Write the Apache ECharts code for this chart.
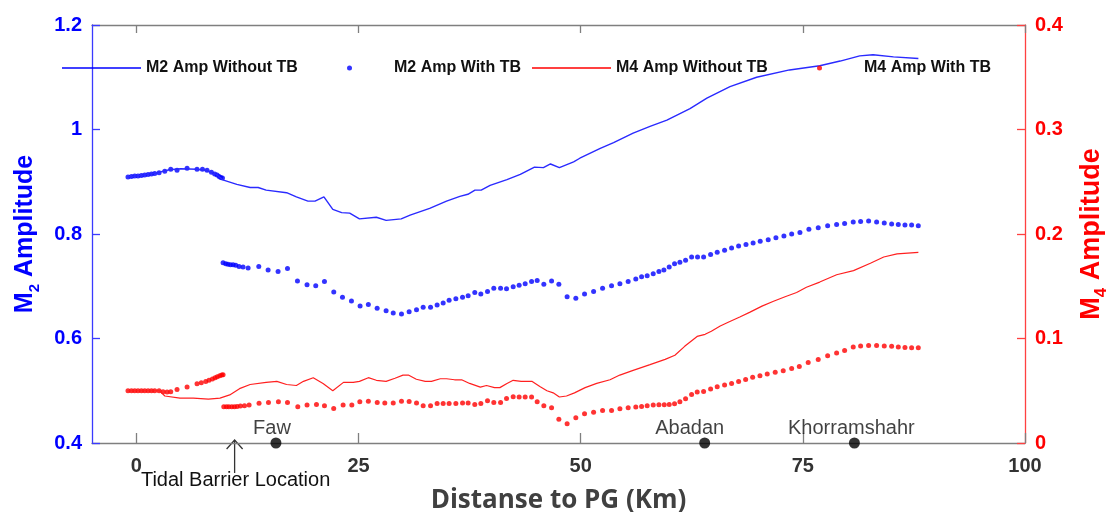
<!DOCTYPE html>
<html>
<head>
<meta charset="utf-8">
<script src="https://cdn.jsdelivr.net/npm/echarts@6/dist/echarts.min.js"></script>
<style>
html, body { margin: 0; padding: 0; background: #fff; }
#main { width: 1111px; height: 512px; }
</style>
</head>
<body>
<div id="main"></div>
<script>
// distance to PG (km), amplitude
const m2WithoutTB = [[-1,0.909],[0.5,0.912],[2,0.916],[3.7,0.923],[5,0.925],[6.8,0.924],[8,0.921],[9,0.914],[9.8,0.903],[11.3,0.895],[12.8,0.889],[13.7,0.889],[14.6,0.884],[16.9,0.879],[18,0.871],[19.3,0.863],[20.1,0.863],[21.1,0.871],[22.1,0.847],[23.1,0.841],[24,0.840],[25.1,0.829],[27,0.832],[28.1,0.826],[29.8,0.829],[30.8,0.836],[33,0.849],[34.9,0.863],[36.4,0.872],[37.3,0.876],[38.1,0.884],[38.8,0.884],[39.8,0.893],[41.7,0.904],[43.2,0.914],[44.8,0.928],[45.8,0.927],[46.6,0.934],[47.6,0.927],[49.2,0.938],[49.9,0.945],[52.2,0.964],[53.7,0.975],[55.9,0.993],[57.8,1.006],[59.7,1.018],[62.3,1.040],[64.2,1.060],[66.8,1.082],[69.8,1.100],[73.5,1.114],[76.9,1.122],[79.2,1.131],[81.4,1.141],[82.9,1.143],[85.2,1.139],[88,1.136]];

const m2WithTB = [[-0.95,0.909],[-0.56,0.910],[-0.19,0.911],[0.18,0.911],[0.56,0.912],[0.93,0.913],[1.31,0.914],[1.69,0.915],[2.06,0.916],[2.55,0.917],[3.19,0.920],[3.86,0.924],[4.57,0.922],[5.7,0.926],[6.82,0.924],[7.43,0.924],[7.95,0.922],[8.44,0.918],[8.81,0.915],[9.08,0.913],[9.31,0.910],[9.49,0.908],[9.68,0.907],
  [9.75,0.745],[10.05,0.743],[10.3,0.742],[10.58,0.741],[10.88,0.741],[11.18,0.740],[11.55,0.738],[12.0,0.737],[12.57,0.735],[13.77,0.738],[14.82,0.731],[15.94,0.728],[17.0,0.734],[18.12,0.710],[19.2,0.703],[20.18,0.701],[21.16,0.709],[22.21,0.689],[23.19,0.679],[24.2,0.672],[25.17,0.662],[26.1,0.665],[27.09,0.658],[28.1,0.653],[28.9,0.649],[29.83,0.647],[30.69,0.651],[31.52,0.655],[32.27,0.660],[33.1,0.660],[33.84,0.664],[34.52,0.668],[35.19,0.673],[35.95,0.676],[36.7,0.679],[37.33,0.682],[38.08,0.688],[38.76,0.685],[39.51,0.690],[40.22,0.696],[40.98,0.696],[41.65,0.695],[42.4,0.699],[43.07,0.702],[43.75,0.705],[44.47,0.709],[45.1,0.711],[45.85,0.704],[46.72,0.710],[47.54,0.704],[48.47,0.680],[49.45,0.677],[50.43,0.685],[51.45,0.690],[52.46,0.696],[53.47,0.701],[54.41,0.705],[55.34,0.709],[56.2,0.714],[56.85,0.718],[57.48,0.720],[58.16,0.724],[58.8,0.728],[59.36,0.731],[59.96,0.737],[60.56,0.743],[61.16,0.746],[61.8,0.750],[62.48,0.756],[63.15,0.756],[63.83,0.756],[64.62,0.761],[65.36,0.765],[66.19,0.769],[66.98,0.773],[67.77,0.777],[68.6,0.780],[69.4,0.783],[70.2,0.786],[71.1,0.789],[71.97,0.793],[72.87,0.796],[73.74,0.800],[74.67,0.803],[75.68,0.809],[76.73,0.812],[77.79,0.816],[78.8,0.818],[79.7,0.820],[80.67,0.823],[81.5,0.824],[82.4,0.825],[83.3,0.823],[84.16,0.821],[84.99,0.819],[85.74,0.818],[86.49,0.817],[87.24,0.817],[87.99,0.816]];

const m4WithoutTB = [[-1,0.050],[2.6,0.050],[3.2,0.045],[4.9,0.043],[6.4,0.043],[8.1,0.042],[9.4,0.043],[10.5,0.046],[11.6,0.052],[12.8,0.056],[14.6,0.058],[15.8,0.059],[16.9,0.056],[18,0.055],[18.8,0.059],[19.9,0.0625],[21,0.057],[22.1,0.050],[23.3,0.058],[24.4,0.058],[25.1,0.059],[26.1,0.0625],[27,0.060],[28.1,0.059],[29.1,0.062],[30,0.065],[30.6,0.065],[31.5,0.061],[32.5,0.059],[33.2,0.059],[34.2,0.0615],[34.9,0.0615],[35.8,0.0605],[36.6,0.0605],[37.5,0.057],[38.7,0.0535],[39.4,0.055],[40.3,0.053],[40.9,0.053],[41.7,0.057],[42.4,0.060],[43.3,0.059],[44.5,0.059],[45.4,0.054],[46.2,0.050],[46.9,0.048],[47.6,0.044],[48.4,0.045],[49.3,0.048],[50.5,0.053],[51.8,0.057],[53.3,0.0605],[54.4,0.065],[55.9,0.0695],[57.8,0.075],[59.5,0.080],[60.6,0.084],[61.7,0.0925],[63.1,0.102],[64,0.104],[64.7,0.107],[65.7,0.112],[66.6,0.1155],[67.9,0.1205],[69,0.125],[70.4,0.131],[71.7,0.1356],[73,0.140],[74.3,0.144],[75.4,0.149],[76.9,0.154],[78.8,0.161],[80.7,0.165],[82.6,0.172],[84.1,0.178],[85.6,0.181],[88,0.1825]];

const m4WithTB = [[-0.95,0.050],[-0.56,0.050],[-0.19,0.050],[0.18,0.050],[0.56,0.050],[0.93,0.050],[1.31,0.050],[1.69,0.050],[2.06,0.050],[2.55,0.050],[3.0,0.049],[3.45,0.0487],[3.86,0.049],[4.57,0.0513],[5.7,0.0535],[6.82,0.0567],[7.3,0.0577],[7.8,0.0589],[8.17,0.060],[8.55,0.0612],[8.85,0.0625],[9.1,0.0634],[9.38,0.0644],[9.6,0.065],[9.75,0.0653],
  [9.83,0.0347],[10.13,0.0347],[10.4,0.0347],[10.73,0.0347],[11.03,0.0347],[11.33,0.035],[11.7,0.0353],[12.16,0.0357],[12.68,0.0363],[13.8,0.0381],[14.86,0.0388],[15.98,0.0395],[17.0,0.0388],[18.16,0.0347],[19.2,0.0363],[20.26,0.0369],[21.16,0.0357],[22.2,0.0331],[23.26,0.0363],[24.24,0.0363],[25.14,0.0395],[26.1,0.040],[27.1,0.0388],[27.95,0.0382],[28.9,0.0382],[29.83,0.040],[30.69,0.0398],[31.52,0.0382],[32.27,0.0357],[33.1,0.0357],[33.84,0.0379],[34.52,0.0379],[35.19,0.0379],[35.95,0.0379],[36.7,0.0382],[37.33,0.0382],[38.08,0.0369],[38.76,0.0379],[39.51,0.0404],[40.22,0.0388],[40.98,0.0388],[41.65,0.0427],[42.4,0.0443],[43.07,0.0439],[43.75,0.0439],[44.47,0.0439],[45.1,0.0395],[45.85,0.0357],[46.72,0.0337],[47.54,0.0228],[48.47,0.0184],[49.45,0.0241],[50.43,0.028],[51.45,0.0295],[52.46,0.0312],[53.47,0.0312],[54.41,0.0328],[55.34,0.0337],[56.2,0.0344],[56.85,0.035],[57.48,0.0357],[58.16,0.0363],[58.8,0.0366],[59.4,0.0366],[59.96,0.0369],[60.56,0.0376],[61.16,0.0395],[61.8,0.0424],[62.48,0.0465],[63.11,0.0487],[63.83,0.0494],[64.62,0.0516],[65.36,0.0538],[66.19,0.0554],[66.98,0.057],[67.77,0.0589],[68.56,0.0608],[69.35,0.0628],[70.17,0.0644],[70.99,0.066],[71.89,0.0676],[72.79,0.0692],[73.74,0.0714],[74.6,0.0733],[75.6,0.0771],[76.73,0.080],[77.79,0.0836],[78.8,0.0861],[79.7,0.0886],[80.67,0.0918],[81.5,0.0928],[82.4,0.0934],[83.3,0.0934],[84.16,0.0928],[84.99,0.0925],[85.74,0.0918],[86.49,0.0915],[87.24,0.0912],[87.99,0.0912]];

const stationNames = ['Faw', 'Abadan', 'Khorramshahr'];
const stationKm = [15.7, 63.95, 80.8];
const barrierKm = 11.05;
const xTicks = [0, 25, 50, 75, 100];

const BLUE = '#0000ff';
const RED = '#ff0000';
const GREY = '#7f7f7f';
const ARIAL = '"Liberation Sans", Arial, sans-serif';

// a dot in the middle of a wide box, so the legend text sits where the line icons put it
const dotIcon = 'path://M0,0M79,0M79,6M0,6M37,3a2.5,2.5 0 1 0 5,0a2.5,2.5 0 1 0 -5,0Z';

function legendAt(left, name, icon, h) {
    return {
        left: left,
        top: 60,
        padding: 0,
        selectedMode: false,
        itemWidth: 79,
        itemHeight: h,
        itemStyle: { borderWidth: 0 },
        textStyle: { fontFamily: ARIAL, fontWeight: 'bold', fontSize: 16, color: '#111' },
        data: [{ name: name, icon: icon }]
    };
}

const labelShift = { Faw: -4, Abadan: -15, Khorramshahr: -3 };

const chart = echarts.init(document.getElementById('main'));
const option = {
    animation: false,
    backgroundColor: '#fff',
    grid: { left: 92, right: 86, top: 25, bottom: 69, outerBoundsMode: 'none' },
    legend: [
        legendAt(62, 'M2 Amp Without TB', 'rect', 1.5),
        legendAt(310, 'M2 Amp With TB', dotIcon, 6),
        legendAt(532, 'M4 Amp Without TB', 'rect', 1.5),
        legendAt(780, 'M4 Amp With TB', dotIcon, 6)
    ],
    xAxis: [
        {
            type: 'value',
            min: -5,
            max: 100,
            name: 'Distanse to PG (Km)',
            nameLocation: 'middle',
            nameGap: 45,
            nameTextStyle: { fontFamily: '"Open Sans", sans-serif', fontWeight: 'bold', fontSize: 26, color: '#404040' },
            axisLine: { onZero: false, lineStyle: { color: GREY, width: 1.3 } },
            axisTick: { inside: true, length: 10, customValues: xTicks, lineStyle: { color: GREY, width: 1.3 } },
            axisLabel: { customValues: xTicks, margin: 13, fontFamily: ARIAL, fontWeight: 'bold', fontSize: 20, color: '#333' },
            splitLine: { show: false }
        },
        {
            type: 'value',
            position: 'top',
            min: -5,
            max: 100,
            axisLine: { onZero: false, lineStyle: { color: GREY, width: 1.3 } },
            axisTick: { inside: true, length: 8, customValues: xTicks, lineStyle: { color: GREY, width: 1.3 } },
            axisLabel: { show: false },
            splitLine: { show: false }
        }
    ],
    yAxis: [
        {
            type: 'value',
            min: 0.4,
            max: 1.2,
            interval: 0.2,
            name: 'M{s|2} Amplitude',
            nameLocation: 'middle',
            nameRotate: 90,
            nameGap: 50,
            nameTextStyle: {
                fontFamily: ARIAL, fontWeight: 'bold', fontSize: 25, color: BLUE, lineHeight: 34,
                rich: { s: { fontFamily: ARIAL, fontWeight: 'bold', fontSize: 15, color: BLUE, verticalAlign: 'bottom' } }
            },
            axisLine: { show: true, onZero: false, lineStyle: { color: '#3a3aff', width: 1.3 } },
            axisTick: { inside: true, length: 8, lineStyle: { color: '#3a3aff', width: 1.3 } },
            axisLabel: { margin: 10, fontFamily: ARIAL, fontWeight: 'bold', fontSize: 20, color: BLUE },
            splitLine: { show: false }
        },
        {
            type: 'value',
            min: 0,
            max: 0.4,
            interval: 0.1,
            position: 'right',
            name: 'M{s|4} Amplitude',
            nameLocation: 'middle',
            nameRotate: 90,
            nameGap: 49,
            nameTextStyle: {
                fontFamily: ARIAL, fontWeight: 'bold', fontSize: 27, color: RED, lineHeight: 36,
                rich: { s: { fontFamily: ARIAL, fontWeight: 'bold', fontSize: 17, color: RED, verticalAlign: 'bottom' } }
            },
            axisLine: { show: true, onZero: false, lineStyle: { color: '#ff4040', width: 1.3 } },
            axisTick: { inside: true, length: 8, lineStyle: { color: '#ff4040', width: 1.3 } },
            axisLabel: { margin: 10, fontFamily: ARIAL, fontWeight: 'bold', fontSize: 20, color: RED },
            splitLine: { show: false }
        }
    ],
    series: [
        {
            name: 'M2 Amp Without TB',
            type: 'line',
            data: m2WithoutTB,
            showSymbol: false,
            color: BLUE,
            lineStyle: { color: '#2a2aff', width: 1.4 }
        },
        {
            name: 'M2 Amp With TB',
            type: 'scatter',
            data: m2WithTB,
            symbolSize: 5,
            color: BLUE,
            itemStyle: { color: BLUE }
        },
        {
            name: 'M4 Amp Without TB',
            type: 'line',
            yAxisIndex: 1,
            data: m4WithoutTB,
            showSymbol: false,
            color: RED,
            lineStyle: { color: '#ff2020', width: 1.2 }
        },
        {
            name: 'M4 Amp With TB',
            type: 'scatter',
            yAxisIndex: 1,
            data: m4WithTB,
            symbolSize: 5,
            color: RED,
            itemStyle: { color: RED }
        },
        {
            name: 'Stations',
            type: 'scatter',
            clip: false,
            symbolSize: 11,
            itemStyle: { color: '#000' },
            z: 5,
            data: stationNames.map((n, i) => ({
                name: n,
                value: [stationKm[i], 0.4],
                label: { offset: [labelShift[n], 0] }
            })),
            label: {
                show: true,
                position: 'top',
                distance: -1,
                formatter: '{b}',
                fontFamily: ARIAL,
                fontSize: 20,
                color: '#111'
            }
        }
    ]
};
chart.setOption(option);

// tidal barrier arrow below the axis, placed through the axis scales
const tip = chart.convertToPixel({ xAxisIndex: 0, yAxisIndex: 0 }, [barrierKm, 0.4]);
chart.setOption({
    graphic: [
        {
            type: 'line',
            shape: { x1: tip[0], y1: tip[1] - 3, x2: tip[0], y2: tip[1] + 30 },
            style: { stroke: '#333', lineWidth: 1.3 }
        },
        {
            type: 'polyline',
            shape: { points: [[tip[0] - 8, tip[1] + 6], [tip[0], tip[1] - 3], [tip[0] + 8, tip[1] + 6]] },
            style: { stroke: '#333', fill: null, lineWidth: 1.3 }
        },
        {
            type: 'text',
            x: tip[0] + 1,
            y: tip[1] + 27,
            style: {
                text: 'Tidal Barrier Location',
                fontFamily: ARIAL,
                fontSize: 20,
                fill: '#111',
                align: 'center',
                verticalAlign: 'top'
            }
        }
    ]
});
</script>
</body>
</html>
